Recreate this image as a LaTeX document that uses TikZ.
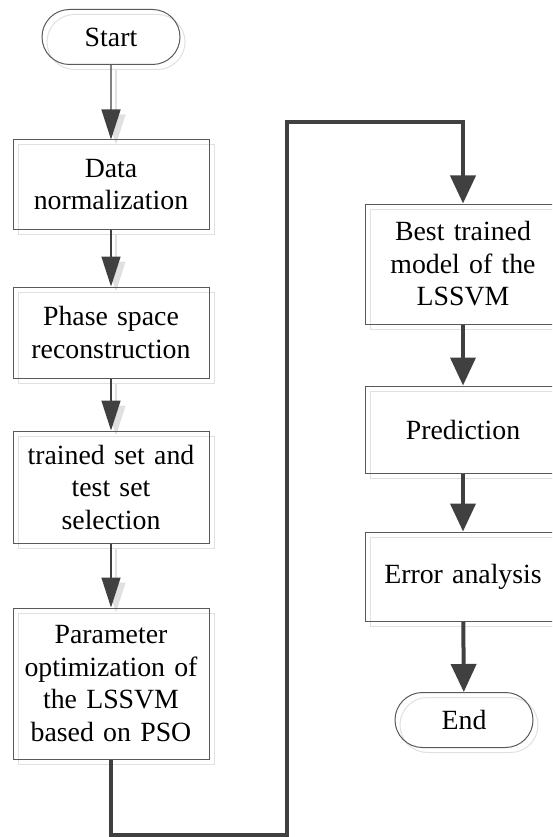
\documentclass[tikz,border=0pt]{standalone}
\usepackage{fontspec}
\setmainfont{Liberation Serif}
\usetikzlibrary{arrows.meta,shapes.misc}

\definecolor{darkline}{HTML}{404040}
\colorlet{boxcol}{black!65}
\colorlet{tipcol}{darkline}
\newcommand{\lbl}[1]{#1}

% boxes, terminals and the thin arrows of the chart
\newcommand{\flownodes}{%
  \node[termbox] (start) at (111,37) {\lbl{Start}};
  \node[procbox,minimum height=89pt] (norm) at (111,184.5) {\lbl{Data\\normalization}};
  \node[procbox,minimum height=91pt] (phase) at (111,332.5) {\lbl{Phase space\\reconstruction}};
  \node[procbox,minimum height=112pt] (sel) at (111,487) {\lbl{trained set and\\test set\\selection}};
  \node[procbox,minimum height=151pt] (pso) at (111,683.5) {\lbl{Parameter\\optimization of\\the LSSVM\\based on PSO}};
  \node[procbox,minimum height=120pt] (best) at (463,264) {\lbl{Best trained\\model of the\\LSSVM}};
  \node[procbox,minimum height=87pt] (pred) at (463,429.5) {\lbl{Prediction}};
  \node[procbox,minimum height=89pt] (err) at (463,576.5) {\lbl{Error analysis}};
  \node[termbox] (finish) at (464,720) {\lbl{End}};
  \draw[thinarrow] (start) -- (norm);
  \draw[thinarrow] (norm) -- (phase);
  \draw[thinarrow] (phase) -- (sel);
  \draw[thinarrow] (sel) -- (pso);
}

\begin{document}
\begin{tikzpicture}[x=1pt,y=-1pt,
    font=\fontsize{27.8}{32.5}\selectfont,
    procbox/.style={draw=boxcol,line width=1pt,minimum width=196pt,
      text width=190pt,align=center,inner sep=0pt},
    termbox/.style={draw=boxcol,line width=1pt,rounded rectangle,
      minimum width=138pt,minimum height=55pt,inner sep=0pt},
    thinarrow/.style={draw=tipcol,line width=1.3pt,
      -{Triangle[length=30pt,width=19pt,fill=tipcol]}},
    thickarrow/.style={draw=darkline,line width=4pt,line join=miter,
      -{Triangle[length=28pt,width=25pt]}},
  ]
  \clip (0,0) rectangle (552,837);

  % faint offset outline behind the chart
  \begin{scope}[shift={(5,5)}]
    \colorlet{boxcol}{black!12}
    \colorlet{tipcol}{black!12}
    \renewcommand{\lbl}[1]{}
    \flownodes
  \end{scope}

  \flownodes

  % loop over to the second column
  \coordinate (low) at (287,835);
  \coordinate (high) at (287,122);
  \draw[thickarrow] (pso.south) |- (low) -- (high) -| (best.north);
  \draw[thickarrow] (best) -- (pred);
  \draw[thickarrow] (pred) -- (err);
  \draw[thickarrow] (err) -- (finish);
\end{tikzpicture}
\end{document}
